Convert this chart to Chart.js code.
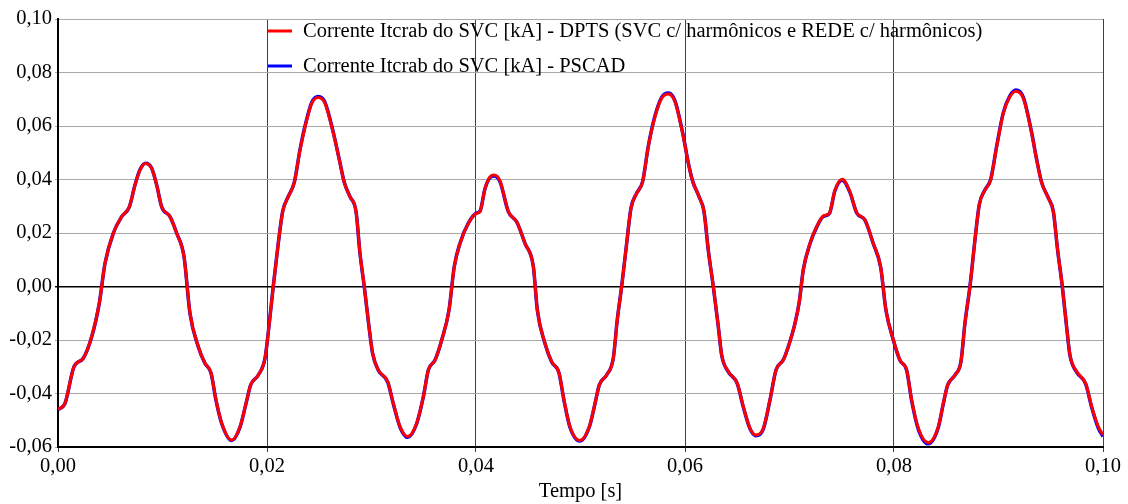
<!DOCTYPE html>
<html>
<head>
<meta charset="utf-8">
<script src="https://cdn.jsdelivr.net/npm/chart.js@4.4.1/dist/chart.umd.min.js"></script>
<style>
  html, body { margin: 0; padding: 0; background: #fff; }
  #wrap { width: 1128px; height: 504px; }
</style>
</head>
<body>
<div id="wrap"><canvas id="grafico" width="1128" height="504"></canvas></div>
<script>
// tempo em segundos
const tempo = [
  0.00000, 0.00067, 0.00153, 0.00242, 0.00322, 0.00395, 0.00450, 0.00529, 0.00609, 0.00683,
  0.00737, 0.00785, 0.00839, 0.00896, 0.00944, 0.00992, 0.01072, 0.01136, 0.01206, 0.01263,
  0.01343, 0.01407, 0.01464, 0.01512, 0.01567, 0.01662, 0.01742, 0.01799, 0.01844, 0.01917,
  0.01981, 0.02022, 0.02060, 0.02108, 0.02150, 0.02204, 0.02261, 0.02316, 0.02364, 0.02428,
  0.02491, 0.02555, 0.02635, 0.02692, 0.02740, 0.02794, 0.02852, 0.02890, 0.02931, 0.02976,
  0.03011, 0.03065, 0.03155, 0.03209, 0.03273, 0.03346, 0.03432, 0.03496, 0.03544, 0.03608,
  0.03672, 0.03742, 0.03792, 0.03847, 0.03927, 0.04007, 0.04038, 0.04086, 0.04134, 0.04175,
  0.04230, 0.04310, 0.04389, 0.04469, 0.04549, 0.04587, 0.04660, 0.04724, 0.04794, 0.04842,
  0.04899, 0.04995, 0.05084, 0.05139, 0.05180, 0.05250, 0.05314, 0.05352, 0.05394, 0.05442,
  0.05483, 0.05538, 0.05595, 0.05649, 0.05713, 0.05777, 0.05840, 0.05904, 0.05984, 0.06032,
  0.06074, 0.06134, 0.06182, 0.06223, 0.06271, 0.06319, 0.06351, 0.06415, 0.06500, 0.06558,
  0.06622, 0.06679, 0.06750, 0.06813, 0.06871, 0.06941, 0.06989, 0.07053, 0.07094, 0.07132,
  0.07196, 0.07260, 0.07324, 0.07381, 0.07435, 0.07505, 0.07579, 0.07643, 0.07722, 0.07802,
  0.07872, 0.07923, 0.07994, 0.08057, 0.08121, 0.08169, 0.08233, 0.08328, 0.08424, 0.08472,
  0.08514, 0.08584, 0.08641, 0.08679, 0.08727, 0.08775, 0.08816, 0.08871, 0.08925, 0.08983,
  0.09046, 0.09110, 0.09167, 0.09237, 0.09317, 0.09365, 0.09413, 0.09477, 0.09525, 0.09566,
  0.09611, 0.09652, 0.09684, 0.09748, 0.09834, 0.09892, 0.09955, 0.10000
];

// Corrente Itcrab do SVC [kA] - DPTS
const correnteDPTS = [
  -0.0459, -0.0436, -0.0300, -0.0268, -0.0188, -0.0063, 0.0087, 0.0199, 0.0261, 0.0298,
  0.0379, 0.0436, 0.0460, 0.0442, 0.0379, 0.0298, 0.0261, 0.0199, 0.0111, -0.0100,
  -0.0225, -0.0287, -0.0322, -0.0424, -0.0511, -0.0574, -0.0524, -0.0437, -0.0368, -0.0331,
  -0.0268, -0.0138, 0.0000, 0.0161, 0.0280, 0.0336, 0.0388, 0.0510, 0.0597, 0.0685,
  0.0707, 0.0685, 0.0573, 0.0473, 0.0388, 0.0336, 0.0280, 0.0124, 0.0000, -0.0150,
  -0.0250, -0.0312, -0.0356, -0.0437, -0.0524, -0.0561, -0.0511, -0.0412, -0.0312, -0.0275,
  -0.0200, -0.0088, 0.0074, 0.0161, 0.0236, 0.0274, 0.0280, 0.0367, 0.0410, 0.0417,
  0.0395, 0.0280, 0.0242, 0.0161, 0.0074, -0.0088, -0.0212, -0.0281, -0.0322, -0.0424,
  -0.0524, -0.0576, -0.0524, -0.0437, -0.0368, -0.0331, -0.0268, -0.0125, 0.0000, 0.0161,
  0.0292, 0.0348, 0.0392, 0.0523, 0.0635, 0.0704, 0.0720, 0.0691, 0.0560, 0.0460,
  0.0392, 0.0336, 0.0280, 0.0136, 0.0000, -0.0150, -0.0256, -0.0318, -0.0362, -0.0449,
  -0.0530, -0.0555, -0.0530, -0.0424, -0.0312, -0.0275, -0.0225, -0.0138, -0.0057, 0.0062,
  0.0161, 0.0224, 0.0264, 0.0274, 0.0361, 0.0401, 0.0354, 0.0276, 0.0249, 0.0161,
  0.0074, -0.0088, -0.0200, -0.0275, -0.0312, -0.0424, -0.0530, -0.0584, -0.0524, -0.0437,
  -0.0368, -0.0331, -0.0281, -0.0138, 0.0000, 0.0174, 0.0305, 0.0361, 0.0398, 0.0523,
  0.0647, 0.0710, 0.0730, 0.0704, 0.0573, 0.0473, 0.0388, 0.0330, 0.0280, 0.0136,
  0.0000, -0.0150, -0.0256, -0.0318, -0.0362, -0.0449, -0.0524, -0.0555
];

// Corrente Itcrab do SVC [kA] - PSCAD
const correntePSCAD = [
  -0.0460, -0.0437, -0.0300, -0.0268, -0.0189, -0.0063, 0.0087, 0.0199, 0.0261, 0.0298,
  0.0380, 0.0437, 0.0461, 0.0443, 0.0380, 0.0298, 0.0261, 0.0199, 0.0111, -0.0101,
  -0.0226, -0.0288, -0.0323, -0.0426, -0.0513, -0.0576, -0.0526, -0.0438, -0.0368, -0.0331,
  -0.0268, -0.0137, 0.0001, 0.0162, 0.0281, 0.0337, 0.0389, 0.0512, 0.0600, 0.0688,
  0.0710, 0.0688, 0.0575, 0.0474, 0.0389, 0.0336, 0.0280, 0.0123, -0.0001, -0.0151,
  -0.0251, -0.0313, -0.0357, -0.0439, -0.0526, -0.0564, -0.0513, -0.0413, -0.0312, -0.0275,
  -0.0200, -0.0087, 0.0075, 0.0162, 0.0237, 0.0275, 0.0281, 0.0365, 0.0407, 0.0413,
  0.0391, 0.0279, 0.0242, 0.0161, 0.0074, -0.0089, -0.0213, -0.0282, -0.0323, -0.0426,
  -0.0526, -0.0578, -0.0526, -0.0438, -0.0368, -0.0331, -0.0267, -0.0124, 0.0001, 0.0162,
  0.0293, 0.0349, 0.0393, 0.0525, 0.0638, 0.0707, 0.0723, 0.0694, 0.0562, 0.0461,
  0.0393, 0.0336, 0.0280, 0.0135, -0.0001, -0.0151, -0.0257, -0.0319, -0.0363, -0.0451,
  -0.0532, -0.0558, -0.0532, -0.0425, -0.0312, -0.0274, -0.0224, -0.0137, -0.0056, 0.0063,
  0.0160, 0.0222, 0.0262, 0.0272, 0.0358, 0.0397, 0.0351, 0.0275, 0.0248, 0.0160,
  0.0073, -0.0089, -0.0201, -0.0276, -0.0313, -0.0427, -0.0534, -0.0588, -0.0527, -0.0438,
  -0.0368, -0.0331, -0.0280, -0.0137, 0.0001, 0.0175, 0.0306, 0.0362, 0.0400, 0.0526,
  0.0650, 0.0714, 0.0735, 0.0708, 0.0576, 0.0475, 0.0389, 0.0331, 0.0280, 0.0135,
  -0.0001, -0.0152, -0.0258, -0.0320, -0.0364, -0.0452, -0.0529, -0.0561
];

const ticksX = [0, 0.02, 0.04, 0.06, 0.08, 0.10];
const ticksY = [-0.06, -0.04, -0.02, 0, 0.02, 0.04, 0.06, 0.08, 0.10];

const fonte = "'Liberation Serif', 'Times New Roman', serif";
const tamanho = 20.5;
const virgula = v => v.toFixed(2).replace(".", ",");

// legenda desenhada dentro da área do gráfico, como no original
const legendaInterna = {
  id: "legendaInterna",
  afterDatasetsDraw(chart) {
    const ctx = chart.ctx;
    const area = chart.chartArea;
    const x0 = area.left + 210;
    const linhas = [area.top + 12, area.top + 47];
    ctx.save();
    ctx.font = tamanho + "px " + fonte;
    ctx.textBaseline = "middle";
    ctx.textAlign = "left";
    chart.data.datasets.forEach((ds, i) => {
      const y = linhas[i];
      ctx.strokeStyle = ds.borderColor;
      ctx.lineWidth = 3;
      ctx.beginPath();
      ctx.moveTo(x0, y);
      ctx.lineTo(x0 + 24, y);
      ctx.stroke();
      ctx.fillStyle = "#000";
      ctx.fillText(ds.label, x0 + 35, y + 1);
    });
    ctx.restore();
  }
};

new Chart(document.getElementById("grafico"), {
  type: "line",
  data: {
    datasets: [
      {
        label: "Corrente Itcrab do SVC [kA] - DPTS (SVC c/ harmônicos e REDE c/ harmônicos)",
        data: tempo.map((t, i) => ({ x: t, y: correnteDPTS[i] })),
        borderColor: "#ff0000",
        borderWidth: 3,
        pointRadius: 0,
        cubicInterpolationMode: "monotone"
      },
      {
        label: "Corrente Itcrab do SVC [kA] - PSCAD",
        data: tempo.map((t, i) => ({ x: t, y: correntePSCAD[i] })),
        borderColor: "#0000ff",
        borderWidth: 3.5,
        pointRadius: 0,
        cubicInterpolationMode: "monotone"
      }
    ]
  },
  options: {
    responsive: false,
    devicePixelRatio: 1,
    animation: false,
    layout: { padding: { left: 0, right: 25, top: 19, bottom: 0 } },
    plugins: {
      legend: { display: false },
      tooltip: { enabled: false }
    },
    scales: {
      x: {
        type: "linear",
        min: 0,
        max: 0.1,
        afterBuildTicks: s => { s.ticks = ticksX.map(v => ({ value: v })); },
        afterFit: s => { s.height = 57; },
        ticks: {
          callback: v => virgula(v),
          color: "#000",
          font: { family: fonte, size: tamanho },
          padding: 2,
          maxRotation: 0
        },
        grid: { color: "#404040", lineWidth: 1, tickLength: 5 },
        border: { color: "#000", width: 2 },
        title: {
          display: true,
          text: "Tempo [s]",
          color: "#000",
          font: { family: fonte, size: tamanho },
          padding: { top: 0, bottom: 0 }
        }
      },
      y: {
        min: -0.06,
        max: 0.10,
        afterBuildTicks: s => { s.ticks = ticksY.map(v => ({ value: v })); },
        afterFit: s => { s.width = 58; },
        ticks: {
          callback: v => virgula(v),
          color: "#000",
          font: { family: fonte, size: tamanho },
          padding: 3
        },
        grid: {
          color: c => (c.tick && Math.abs(c.tick.value) < 1e-9) ? "#000" : "#a8a8a8",
          lineWidth: c => (c.tick && Math.abs(c.tick.value) < 1e-9) ? 1.5 : 1,
          tickLength: 3
        },
        border: { color: "#000", width: 2 }
      }
    }
  },
  plugins: [legendaInterna]
});
</script>
</body>
</html>
